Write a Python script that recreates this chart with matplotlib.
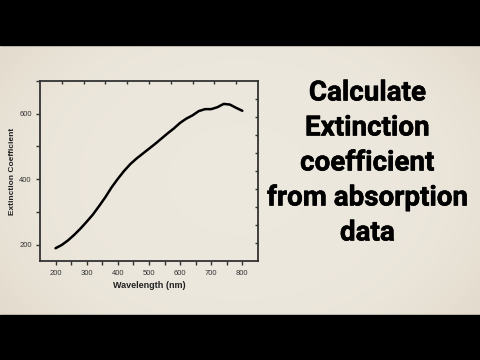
import numpy as np
import matplotlib
matplotlib.use("Agg")
import matplotlib.pyplot as plt
import matplotlib.patheffects as pe
from matplotlib.patches import Rectangle

# curve
wavelength = [200, 220, 240, 260, 280, 300, 320, 340, 360, 380, 400, 420, 440, 460, 480,
              500, 520, 540, 560, 580, 600, 620, 640, 660, 680, 700, 720, 740, 760, 780, 800]
extinction = [189, 199, 213, 230, 249, 270, 292, 318, 345, 375, 401, 425, 446, 463, 478,
              493, 508, 524, 540, 555, 572, 585, 595, 608, 614, 614, 620, 630, 628, 618, 609]

x_ticks = [200, 300, 400, 500, 600, 700, 800]
y_ticks = [200, 400, 600]
title_lines = ["Calculate", "Extinction", "coefficient", "from absorption", "data"]

paper = "#ece7dc"
fig = plt.figure(figsize=(4.8, 3.6), dpi=100)
fig.patch.set_facecolor(paper)

# soft darker edges like old paper
bg = fig.add_axes([0, 0, 1, 1], zorder=-10)
gx, gy = np.meshgrid(np.linspace(-1, 1, 240), np.linspace(-1, 1, 180))
shade = np.clip((gx ** 2 + gy ** 2) / 2, 0, 1) ** 2
base = np.array([0.929, 0.910, 0.870])
edge = np.array([0.86, 0.82, 0.75])
rgb = base[None, None, :] * (1 - shade[..., None]) + edge[None, None, :] * shade[..., None]
bg.imshow(rgb, aspect="auto", extent=[0, 1, 0, 1], interpolation="bilinear")
bg.axis("off")

# black letterbox bars
fig.patches.append(Rectangle((0, 0.875), 1, 0.125, transform=fig.transFigure,
                             color="black", zorder=5))
fig.patches.append(Rectangle((0, 0), 1, 0.125, transform=fig.transFigure,
                             color="black", zorder=5))

ax = fig.add_axes([0.0833, 0.275, 0.454, 0.5])
ax.patch.set_alpha(0)
ax.plot(wavelength, extinction, color="black", lw=1.8, solid_capstyle="round")
ax.set_xlim(150, 850)
ax.set_ylim(150, 700)
ax.set_xticks(x_ticks)
ax.set_xticks([250, 350, 450, 550, 650, 750], minor=True)
ax.set_yticks(y_ticks)
ax.set_yticks([300, 500, 700], minor=True)
ax.tick_params(which="both", direction="out", length=3, width=1, color="#333333",
               labelsize=5.5, labelcolor="#333333")
ax.tick_params(axis="y", pad=3)
for s in ax.spines.values():
    s.set_color("#333333")
    s.set_linewidth(1.3)
ax.set_xlabel("Wavelength (nm)", family="Liberation Sans", weight="bold",
              fontsize=6.5, labelpad=2.5, color="#222222")
ax.set_ylabel("Extinction Coefficient", family="Liberation Sans", weight="bold",
              fontsize=6, labelpad=2, color="#222222")
for lab in ax.get_xticklabels() + ax.get_yticklabels():
    lab.set_family("Liberation Sans")

# top and right tick marks
top = ax.twiny()
top.set_xlim(0, 10)
top.set_xticks(range(1, 10))
top.tick_params(direction="in", length=2.5, width=1, color="#333333", labeltop=False)
right = ax.twinx()
right.set_ylim(0, 10)
right.set_yticks(range(1, 10))
right.tick_params(direction="in", length=2.5, width=1, color="#333333", labelright=False)
for a in (top, right):
    a.patch.set_alpha(0)
    for s in a.spines.values():
        s.set_visible(False)

for i, line in enumerate(title_lines):
    fig.text(0.765, 1 - (93 + 35 * i) / 360, line, family="Roboto", weight="bold",
             fontsize=20, ha="center", va="center", color="black",
             path_effects=[pe.withStroke(linewidth=0.4, foreground="black")])

fig.savefig("out.png", dpi=100, facecolor=paper)
